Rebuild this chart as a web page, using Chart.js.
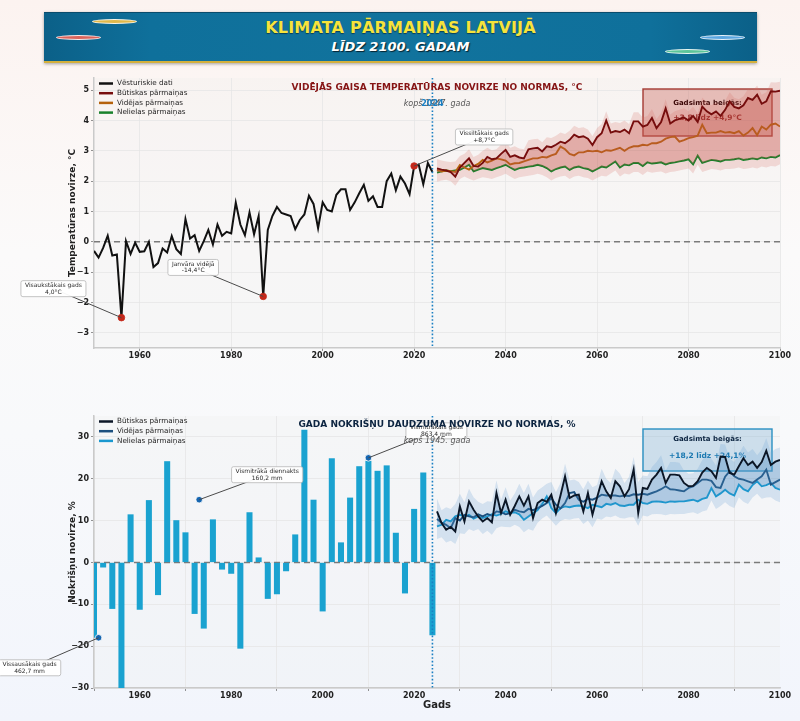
<!DOCTYPE html>
<html lang="lv">
<head>
<meta charset="utf-8">
<title>Klimata pārmaiņas Latvijā līdz 2100. gadam</title>
<script src="https://cdn.jsdelivr.net/npm/chart.js@4.4.1/dist/chart.umd.min.js"></script>
<style>
  html, body { margin: 0; padding: 0; }
  body {
    width: 800px; height: 721px; overflow: hidden; position: relative;
    background: linear-gradient(180deg, #fcf3f0 0%, #fbfafa 35%, #f8f9fb 60%, #f2f5fc 100%);
    font-family: "DejaVu Sans", sans-serif;
  }
  #banner {
    position: absolute; left: 44px; top: 12px; width: 713px; height: 48px;
    background: linear-gradient(90deg, #0b6088 0%, #0f709b 15%, #11739d 50%, #0f709b 85%, #0b6088 100%);
    border-top: 1px solid #0a4c6c;
    border-bottom: 2px solid #d4b03c;
    box-shadow: 0 1px 3px rgba(0,0,0,0.35);
    text-align: center;
  }
  #banner .t1 {
    position: absolute; left: 0; right: 0; top: 5px;
    color: #f6e33b; font-weight: bold; font-size: 16px; letter-spacing: 0.2px;
    text-shadow: 0 1px 1px rgba(0,0,0,0.45);
  }
  #banner .t2 {
    position: absolute; left: 0; right: 0; top: 26px;
    color: #ffffff; font-weight: bold; font-style: italic; font-size: 13px;
    text-shadow: 1px 1px 1px rgba(0,0,0,0.7);
  }
  .blob {
    position: absolute; width: 43px; height: 3px; border-radius: 50%;
    border: 1px solid rgba(255,255,255,0.85);
  }
  .panel { position: absolute; left: 0; width: 800px; }
</style>
</head>
<body>
<div id="banner">
  <span class="blob" style="left:48px; top:6px;  background:#e0b94c"></span>
  <span class="blob" style="left:12px; top:22px; background:#d9645c"></span>
  <span class="blob" style="left:656px; top:22px; background:#5aa6e0"></span>
  <span class="blob" style="left:621px; top:36px; background:#5cc59a"></span>
  <div class="t1">KLIMATA PĀRMAIŅAS LATVIJĀ</div>
  <div class="t2">LĪDZ 2100. GADAM</div>
</div>

<div class="panel" style="top:70px; height:300px"><canvas id="tempChart" width="800" height="300"></canvas></div>
<div class="panel" style="top:405px; height:316px"><canvas id="precChart" width="800" height="316"></canvas></div>

<script>
// ---------- DATA ----------
const HIST_START = 1950;
const PROJ_START = 2025;
const NOW_YEAR = 2024;

const X_TICKS = [1960, 1980, 2000, 2020, 2040, 2060, 2080, 2100];
const TEMP_TICKS = [-3, -2, -1, 0, 1, 2, 3, 4, 5];
const PREC_TICKS = [-30, -20, -10, 0, 10, 20, 30];

// temperature anomaly, °C (1950-2024)
const TEMP_HIST = [
  -0.30, -0.52, -0.20, 0.20, -0.45, -0.42, -2.50, 0.02, -0.40, -0.03,
  -0.33, -0.31, 0.00, -0.83, -0.70, -0.22, -0.35, 0.19, -0.24, -0.40,
  0.75, 0.11, 0.22, -0.30, 0.02, 0.39, -0.09, 0.57, 0.20, 0.33,
  0.28, 1.29, 0.57, 0.22, 0.97, 0.25, 0.85, -1.80, 0.39, 0.85,
  1.15, 0.95, 0.90, 0.85, 0.42, 0.72, 0.90, 1.52, 1.25, 0.45,
  1.30, 1.05, 1.00, 1.55, 1.73, 1.73, 1.05, 1.30, 1.60, 1.88,
  1.35, 1.50, 1.15, 1.15, 2.00, 2.25, 1.70, 2.15, 1.92, 1.57,
  2.50, 2.55, 1.90, 2.60, 2.30
];

// temperature projections 2025-2100
const TEMP_HIGH = [
  2.42, 2.38, 2.35, 2.30, 2.15, 2.45, 2.60, 2.75, 2.50, 2.48,
  2.60, 2.80, 2.72, 2.75, 2.90, 3.03, 2.80, 2.85, 2.78, 2.75,
  3.05, 3.08, 3.10, 2.98, 3.15, 3.12, 3.20, 3.30, 3.25, 3.36,
  3.53, 3.45, 3.48, 3.40, 3.19, 3.45, 3.58, 4.00, 3.60, 3.65,
  3.62, 3.70, 3.58, 3.97, 3.97, 3.80, 3.85, 4.08, 3.75, 3.95,
  4.40, 3.90, 4.00, 4.05, 4.10, 4.00, 4.15, 3.95, 4.46, 4.30,
  4.20, 4.30, 4.15, 4.35, 4.63, 4.45, 4.40, 4.50, 4.74, 4.68,
  4.85, 4.55, 4.63, 4.96, 4.95, 4.98
];
const TEMP_MID = [
  2.37, 2.32, 2.35, 2.33, 2.30, 2.53, 2.45, 2.38, 2.50, 2.57,
  2.70, 2.62, 2.68, 2.75, 2.72, 2.68, 2.55, 2.59, 2.60, 2.65,
  2.70, 2.75, 2.75, 2.80, 2.78, 2.85, 2.90, 3.14, 3.05, 2.90,
  2.85, 2.95, 2.95, 3.00, 2.98, 3.00, 2.95, 3.02, 3.00, 3.05,
  3.10, 3.00, 3.10, 3.15, 3.15, 3.20, 3.18, 3.25, 3.25, 3.30,
  3.40, 3.45, 3.47, 3.30, 3.35, 3.42, 3.45, 3.50, 3.86, 3.58,
  3.60, 3.60, 3.65, 3.60, 3.62, 3.58, 3.65, 3.50, 3.60, 3.75,
  3.52, 3.80, 3.70, 3.86, 3.90, 3.80
];
const TEMP_LOW = [
  2.28, 2.32, 2.35, 2.33, 2.35, 2.37, 2.45, 2.54, 2.32, 2.38,
  2.43, 2.40, 2.37, 2.43, 2.48, 2.54, 2.45, 2.37, 2.43, 2.45,
  2.48, 2.50, 2.54, 2.50, 2.43, 2.32, 2.40, 2.45, 2.48, 2.37,
  2.45, 2.48, 2.43, 2.40, 2.32, 2.40, 2.48, 2.45, 2.55, 2.65,
  2.45, 2.55, 2.52, 2.60, 2.60, 2.50, 2.62, 2.58, 2.60, 2.62,
  2.55, 2.60, 2.62, 2.65, 2.68, 2.72, 2.55, 2.84, 2.60, 2.65,
  2.70, 2.68, 2.65, 2.70, 2.70, 2.72, 2.75, 2.70, 2.72, 2.75,
  2.72, 2.78, 2.75, 2.80, 2.78, 2.86
];
const TEMP_SPREAD = 0.3;

// precipitation anomaly, % (every second year 1950-2024)
const PREC_BAR_STEP = 2;
const PREC_BARS = [
  -18.0, -1.2, -11.1, -33.0, 11.5, -11.3, 14.9, -7.8, 24.2, 10.1,
  7.2, -12.3, -15.8, 10.3, -1.7, -2.7, -20.6, 12.0, 1.2, -8.7,
  -7.6, -2.1, 6.7, 31.7, 15.0, -11.7, 24.9, 4.8, 15.5, 23.0,
  24.3, 21.9, 23.2, 7.1, -7.4, 12.8, 21.5, -17.4
];

// precipitation projections 2025-2100
const PREC_HIGH = [
  12.2, 9.4, 7.8, 8.5, 7.4, 13.4, 9.8, 14.6, 12.6, 11.0,
  9.8, 10.6, 9.6, 16.6, 11.8, 15.0, 11.4, 13.5, 15.8, 13.6,
  15.8, 10.6, 14.2, 15.0, 14.5, 16.2, 11.8, 16.0, 20.6, 15.4,
  16.0, 16.2, 12.2, 16.6, 11.4, 15.5, 19.4, 17.0, 15.4, 19.4,
  18.2, 15.8, 17.5, 22.2, 11.8, 17.8, 17.6, 19.8, 21.0, 22.6,
  19.0, 21.0, 21.0, 20.8, 19.0, 18.2, 18.3, 19.4, 21.5, 22.6,
  21.8, 20.2, 25.3, 25.2, 21.4, 21.0, 23.0, 24.9, 23.3, 24.1,
  22.6, 24.0, 26.7, 23.3, 24.1, 24.5
];
const PREC_MID = [
  10.4, 9.5, 9.0, 8.2, 10.6, 10.0, 11.4, 11.0, 10.8, 11.5,
  11.0, 11.6, 11.2, 12.2, 12.0, 11.5, 11.8, 12.6, 12.2, 12.0,
  12.8, 12.5, 13.0, 13.5, 14.2, 15.4, 13.8, 12.9, 14.2, 16.6,
  16.8, 15.0, 14.5, 15.2, 15.0, 15.5, 16.2, 16.0, 16.0, 16.0,
  15.8, 16.0, 15.9, 16.3, 16.2, 16.4, 16.2, 16.6, 17.0, 17.5,
  18.2, 17.5, 17.4, 17.2, 17.0, 17.8, 18.2, 19.0, 19.8, 19.8,
  19.5, 18.0, 17.8, 20.5, 21.8, 20.6, 20.0, 19.8, 19.4, 19.0,
  19.8, 20.6, 22.2, 18.6, 19.2, 19.8
];
const PREC_LOW = [
  8.6, 9.0, 10.2, 9.8, 11.0, 11.4, 11.0, 11.4, 10.5, 11.0,
  10.6, 11.0, 11.5, 11.2, 11.6, 12.2, 11.8, 12.0, 11.5, 10.2,
  11.0, 11.8, 12.5, 14.0, 15.8, 13.0, 11.8, 13.0, 13.4, 13.2,
  13.5, 13.6, 13.4, 13.0, 13.8, 13.5, 13.2, 14.0, 13.8, 14.2,
  13.6, 13.5, 13.8, 13.8, 15.0, 14.2, 14.0, 14.5, 14.6, 14.5,
  14.3, 14.6, 14.5, 14.6, 14.6, 14.8, 15.0, 14.6, 15.2, 15.5,
  17.8, 15.8, 16.5, 17.4, 16.5, 16.0, 18.6, 17.5, 17.0, 18.5,
  19.4, 18.2, 18.5, 19.0, 17.8, 17.4
];
const PREC_SPREAD = 3;

// highlighted points and their notes
const TEMP_MARK_YEARS = [1956, 1987, 2020];
const TEMP_MARK_VALUES = [-2.5, -1.8, 2.5];
const TEMP_MARK_NOTES = [['Visaukstākais gads', '4,0°C'], ['Janvāra vidējā', '-14,4°C'], ['Vissiltākais gads', '+8,7°C']];
const PREC_MARK_YEARS = [1951, 1973, 2010];
const PREC_MARK_VALUES = [-18.0, 15.0, 25.0];
const PREC_MARK_NOTES = [['Vissausākais gads', '462,7 mm'], ['Vismitrākā diennakts', '160,2 mm'], ['Vismitrākais gads', '863,4 mm']];

// ---------- HELPERS ----------
Chart.defaults.font.family = '"DejaVu Sans", sans-serif';
Chart.defaults.color = '#222';

const range = (start, n, step) => Array.from({ length: n }, (_, i) => start + i * (step || 1));
const pts = (xs, ys) => ys.map((y, i) => ({ x: xs[i], y: y }));
const bandHi = (list, s) => list[0].map((_, i) => Math.max(...list.map(a => a[i])) + s);
const bandLo = (list, s) => list[0].map((_, i) => Math.min(...list.map(a => a[i])) - s);
const minus = v => (v < 0 ? '\u2212' + Math.abs(v) : String(v));

const HIST_YEARS = range(HIST_START, TEMP_HIST.length);
const PROJ_YEARS = range(PROJ_START, TEMP_HIGH.length);
const BAR_YEARS = range(HIST_START, PREC_BARS.length, PREC_BAR_STEP);

function xAxis(withTitle) {
  return {
    type: 'linear', min: 1950, max: 2100, offset: false,
    afterBuildTicks: s => { s.ticks = X_TICKS.map(v => ({ value: v })); },
    afterFit: s => { s.height = withTitle ? 27 : 22; },
    grid: { color: '#e6e6e6', lineWidth: 0.8, tickLength: 3, tickColor: '#777' },
    border: { color: '#cacaca', width: 1.5 },
    ticks: { font: { size: 8, weight: 'bold' }, color: '#222', padding: 0, maxRotation: 0, callback: v => String(v) },
    title: { display: withTitle, text: 'Gads', font: { size: 10, weight: 'bold' }, color: '#222', padding: { top: 0, bottom: 4 } }
  };
}

function yAxis(min, max, ticks, title) {
  return {
    type: 'linear', min: min, max: max,
    afterBuildTicks: s => { s.ticks = ticks.map(v => ({ value: v })); },
    afterFit: s => { s.width = 31; },
    grid: { color: '#e6e6e6', lineWidth: 0.8, tickLength: 3, tickColor: '#777' },
    border: { color: '#cacaca', width: 1.5 },
    ticks: { font: { size: 8, weight: 'bold' }, color: '#222', padding: 2, callback: minus },
    title: { display: true, text: title, font: { size: 9, weight: 'bold' }, color: '#222', padding: { top: 4, bottom: 0 } }
  };
}

function roundRect(ctx, x, y, w, h, r) {
  ctx.beginPath();
  ctx.moveTo(x + r, y);
  ctx.arcTo(x + w, y, x + w, y + h, r);
  ctx.arcTo(x + w, y + h, x, y + h, r);
  ctx.arcTo(x, y + h, x, y, r);
  ctx.arcTo(x, y, x + w, y, r);
  ctx.closePath();
}

function drawNote(ctx, px, py, cx, cy, lines) {
  ctx.save();
  ctx.strokeStyle = '#4a4a4a';
  ctx.lineWidth = 1;
  ctx.beginPath(); ctx.moveTo(px, py); ctx.lineTo(cx, cy); ctx.stroke();
  ctx.font = '6px "DejaVu Sans"';
  const w = Math.max(...lines.map(t => ctx.measureText(t).width)) + 8;
  const h = lines.length * 6.5 + 3;
  roundRect(ctx, cx - w / 2, cy - h / 2, w, h, 2);
  ctx.fillStyle = 'rgba(255,255,255,0.95)';
  ctx.fill();
  ctx.strokeStyle = '#b5b5b5';
  ctx.lineWidth = 0.8;
  ctx.stroke();
  ctx.fillStyle = '#2a2a2a';
  ctx.textAlign = 'center';
  ctx.textBaseline = 'middle';
  lines.forEach((t, i) => ctx.fillText(t, cx, cy - h / 2 + 4.8 + i * 6.5));
  ctx.restore();
}

// background, reference lines, end-of-century box, titles, notes, legend
function decorPlugin(cfg) {
  return {
    id: 'decor',
    beforeDraw(chart) {
      const { ctx, chartArea: a } = chart;
      ctx.save();
      ctx.fillStyle = 'rgba(238,238,238,0.3)';
      ctx.fillRect(a.left, a.top, a.right - a.left, a.bottom - a.top);
      ctx.restore();
    },
    beforeDatasetsDraw(chart) {
      const { ctx, chartArea: a, scales: { y } } = chart;
      ctx.save();
      // zero line
      const y0 = y.getPixelForValue(0);
      ctx.strokeStyle = '#7a7a7a';
      ctx.lineWidth = 1.5;
      ctx.setLineDash([6, 4]);
      ctx.beginPath(); ctx.moveTo(a.left, y0); ctx.lineTo(a.right, y0); ctx.stroke();
      ctx.setLineDash([]);
      // end-of-century box
      const b = cfg.box;
      const bx = a.left + 549, by = a.top + b.top, bw = 129, bh = b.height;
      ctx.fillStyle = b.fill;
      ctx.fillRect(bx, by, bw, bh);
      ctx.strokeStyle = b.edge;
      ctx.lineWidth = 1.4;
      ctx.strokeRect(bx, by, bw, bh);
      ctx.textAlign = 'center';
      ctx.textBaseline = 'middle';
      ctx.font = 'bold 7px "DejaVu Sans"';
      ctx.fillStyle = b.c1;
      ctx.fillText('Gadsimta beigās:', bx + bw / 2, by + b.l1);
      ctx.font = 'bold 7.5px "DejaVu Sans"';
      ctx.fillStyle = b.c2;
      ctx.fillText(b.text, bx + bw / 2, by + b.l2);
      ctx.restore();
    },
    afterDatasetsDraw(chart) {
      const { ctx, chartArea: a, scales: { x, y } } = chart;
      const cx = (a.left + a.right) / 2;
      ctx.save();
      // "today" line
      const xn = x.getPixelForValue(NOW_YEAR);
      ctx.strokeStyle = '#1a7fc2';
      ctx.lineWidth = 1.6;
      ctx.setLineDash([1.6, 2]);
      ctx.beginPath(); ctx.moveTo(xn, a.top); ctx.lineTo(xn, a.bottom); ctx.stroke();
      ctx.setLineDash([]);
      // notes
      cfg.marks.years.forEach((yr, i) => {
        const px = x.getPixelForValue(yr), py = y.getPixelForValue(cfg.marks.values[i]);
        const off = cfg.marks.offsets[i];
        drawNote(ctx, px, py, px + off[0], py + off[1], cfg.marks.notes[i]);
      });
      // "since" text
      ctx.textAlign = 'center';
      ctx.textBaseline = 'middle';
      ctx.font = 'italic 8px "DejaVu Sans"';
      ctx.fillStyle = '#555';
      ctx.fillText(cfg.since, cx, a.top + cfg.sinceY);
      if (cfg.nowLabel) {
        ctx.font = 'bold 8px "DejaVu Sans"';
        ctx.fillStyle = '#1a7fc2';
        ctx.fillText(String(NOW_YEAR), xn, a.top + cfg.sinceY);
      }
      // title
      ctx.font = 'bold 9px "DejaVu Sans"';
      ctx.fillStyle = cfg.titleColor;
      ctx.fillText(cfg.title, cx, a.top + cfg.titleY);
      // legend
      ctx.textAlign = 'left';
      ctx.font = '7.2px "DejaVu Sans"';
      let ly = a.top + 5.5;
      chart.data.datasets.filter(d => d.legend).sort((p, q) => p.legend - q.legend).forEach(d => {
        ctx.strokeStyle = d.borderColor;
        ctx.lineWidth = 2.5;
        ctx.beginPath(); ctx.moveTo(a.left + 5, ly); ctx.lineTo(a.left + 19, ly); ctx.stroke();
        ctx.fillStyle = '#222';
        ctx.fillText(d.label, a.left + 23, ly);
        ly += 9.7;
      });
      ctx.restore();
    }
  };
}

const lineDs = (label, xs, ys, color, width, extra) => Object.assign({
  type: 'line', label: label, data: pts(xs, ys), borderColor: color, backgroundColor: color,
  borderWidth: width, pointRadius: 0, tension: 0, fill: false
}, extra || {});

const bandDs = (xs, ys, fill, color) => ({
  type: 'line', label: '', data: pts(xs, ys), borderWidth: 0, pointRadius: 0,
  fill: fill, backgroundColor: color, borderColor: 'rgba(0,0,0,0)', order: 20
});

const markDs = (xs, ys, color, edge) => ({
  type: 'line', label: '', data: pts(xs, ys), showLine: false, pointRadius: 3.3,
  pointBackgroundColor: color, pointBorderColor: edge, pointBorderWidth: 0.8, order: 0
});

// ---------- TEMPERATURE CHART ----------
const tempLists = [TEMP_HIGH, TEMP_MID, TEMP_LOW];
new Chart(document.getElementById('tempChart'), {
  type: 'line',
  data: {
    datasets: [
      bandDs(PROJ_YEARS, bandHi(tempLists, TEMP_SPREAD), false, 'rgba(0,0,0,0)'),
      bandDs(PROJ_YEARS, bandLo(tempLists, TEMP_SPREAD), '-1', 'rgba(214,110,98,0.22)'),
      lineDs('Būtiskas pārmaiņas', PROJ_YEARS, TEMP_HIGH, '#760d0d', 1.9, { fill: 4, backgroundColor: 'rgba(192,82,70,0.32)', order: 3, legend: 2 }),
      lineDs('Vidējas pārmaiņas', PROJ_YEARS, TEMP_MID, '#b5620c', 1.9, { order: 4, legend: 3 }),
      lineDs('Nelielas pārmaiņas', PROJ_YEARS, TEMP_LOW, '#17812b', 1.9, { order: 5, legend: 4 }),
      lineDs('Vēsturiskie dati', HIST_YEARS, TEMP_HIST, '#111111', 2, { order: 2, legend: 1 }),
      markDs(TEMP_MARK_YEARS, TEMP_MARK_VALUES, '#c4281a', '#c4281a')
    ]
  },
  options: {
    responsive: false, animation: false,
    layout: { padding: { left: 63, right: 20, top: 8, bottom: 0 } },
    plugins: { legend: { display: false }, tooltip: { enabled: false } },
    scales: { x: xAxis(false), y: yAxis(-3.5, 5.4, TEMP_TICKS, 'Temperatūras novirze, °C') }
  },
  plugins: [decorPlugin({
    title: 'VIDĒJĀS GAISA TEMPERATŪRAS NOVIRZE NO NORMAS, °C', titleColor: '#861515', titleY: 9.5,
    since: 'kopš 1947. gada', sinceY: 25.5, nowLabel: true,
    box: { top: 11, height: 47, l1: 14, l2: 29, fill: 'rgba(200,96,86,0.38)', edge: '#a33a32', c1: '#3a0606', c2: '#8a1616', text: '+3,8 līdz +4,9°C' },
    marks: {
      years: TEMP_MARK_YEARS, values: TEMP_MARK_VALUES, notes: TEMP_MARK_NOTES,
      offsets: [[-68, -29], [-70, -29], [70, -29]]
    }
  })]
});

// ---------- PRECIPITATION CHART ----------
const precLists = [PREC_HIGH, PREC_MID, PREC_LOW];
const precBars = {
  type: 'bar', label: '', data: pts(BAR_YEARS, PREC_BARS),
  backgroundColor: '#1aa2d0', borderColor: '#1aa2d0', borderWidth: 0,
  barPercentage: 0.66, categoryPercentage: 1.0, order: 6
};
new Chart(document.getElementById('precChart'), {
  type: 'line',
  data: {
    datasets: [
      bandDs(PROJ_YEARS, bandHi(precLists, PREC_SPREAD), false, 'rgba(0,0,0,0)'),
      bandDs(PROJ_YEARS, bandLo(precLists, PREC_SPREAD), '-1', 'rgba(110,165,210,0.25)'),
      lineDs('Būtiskas pārmaiņas', PROJ_YEARS, PREC_HIGH, '#0b1626', 1.9, { fill: 4, backgroundColor: 'rgba(80,140,190,0.28)', order: 3, legend: 1 }),
      lineDs('Vidējas pārmaiņas', PROJ_YEARS, PREC_MID, '#1b4f7e', 1.9, { order: 4, legend: 2 }),
      lineDs('Nelielas pārmaiņas', PROJ_YEARS, PREC_LOW, '#1a98cf', 1.9, { order: 5, legend: 3 }),
      precBars,
      markDs(PREC_MARK_YEARS, PREC_MARK_VALUES, '#1565b0', '#ffffff')
    ]
  },
  options: {
    responsive: false, animation: false,
    layout: { padding: { left: 63, right: 20, top: 11, bottom: 6 } },
    plugins: { legend: { display: false }, tooltip: { enabled: false } },
    scales: { x: xAxis(true), y: yAxis(-30, 35, PREC_TICKS, 'Nokrišņu novirze, %') }
  },
  plugins: [decorPlugin({
    title: 'GADA NOKRIŠŅU DAUDZUMA NOVIRZE NO NORMAS, %', titleColor: '#0c2440', titleY: 8.5,
    since: 'kopš 1945. gada', sinceY: 25, nowLabel: false,
    box: { top: 13, height: 42, l1: 10, l2: 27, fill: 'rgba(120,175,212,0.32)', edge: '#2a90c2', c1: '#0c2440', c2: '#1a78b0', text: '+18,2 līdz +24,1%' },
    marks: {
      years: PREC_MARK_YEARS, values: PREC_MARK_VALUES, notes: PREC_MARK_NOTES,
      offsets: [[-69, 30], [68, -25], [68, -27]]
    }
  })]
});
</script>
</body>
</html>
